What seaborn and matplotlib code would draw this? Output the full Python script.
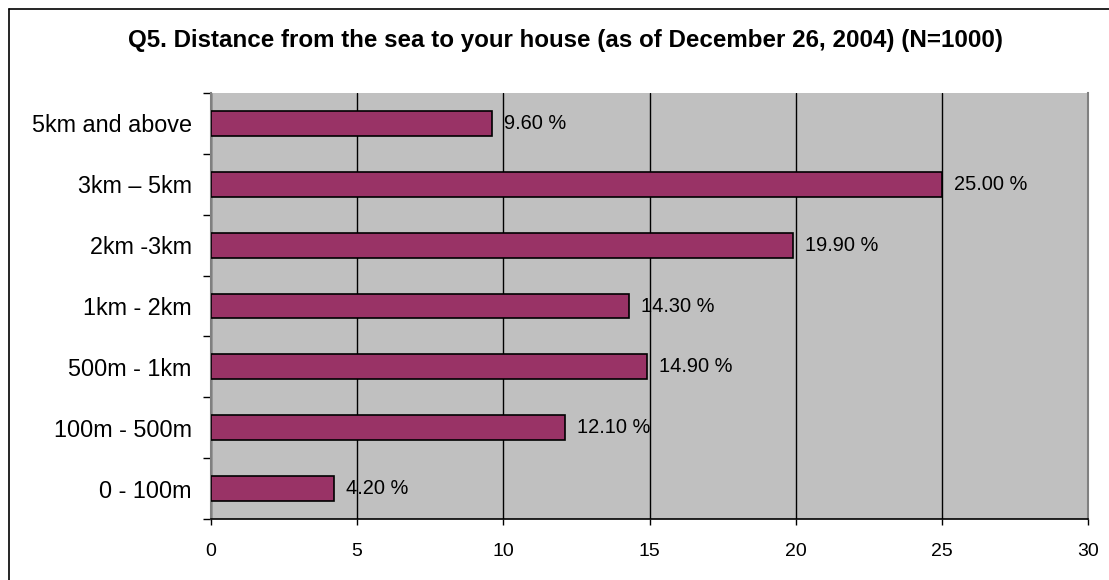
import matplotlib
matplotlib.use("Agg")
import matplotlib.pyplot as plt
import seaborn as sns
import pandas as pd
from matplotlib.lines import Line2D

categories = ["5km and above", "3km \u2013 5km", "2km -3km", "1km - 2km",
              "500m - 1km", "100m - 500m", "0 - 100m"]
percentages = [9.6, 25.0, 19.9, 14.3, 14.9, 12.1, 4.2]
x_ticks = [0, 5, 10, 15, 20, 25, 30]
title = "Q5. Distance from the sea to your house (as of December 26, 2004) (N=1000)"

sns.set_theme(style="white")
plt.rcParams["font.family"] = ["Liberation Sans", "DejaVu Sans"]
plt.rcParams["text.color"] = "black"
plt.rcParams["xtick.color"] = "black"
plt.rcParams["ytick.color"] = "black"
plt.rcParams["xtick.labelcolor"] = "black"
plt.rcParams["ytick.labelcolor"] = "black"

df = pd.DataFrame({"category": categories, "pct": percentages})

fig = plt.figure(figsize=(11.09, 5.80), dpi=100)
ax = fig.add_axes([211 / 1109, 1 - 519 / 580, 877 / 1109, 426 / 580])
ax.set_facecolor("#c0c0c0")

sns.barplot(data=df, x="pct", y="category", orient="h", color="#993366",
            width=0.41, edgecolor="black", linewidth=1.2, saturation=1,
            ax=ax, zorder=3)

# value labels
for i, v in enumerate(percentages):
    ax.text(v + 0.42, i, f"{v:.2f} %", va="center", ha="left",
            fontsize=14.4, color="black", zorder=4)

ax.set_xlim(0, 30)
ax.set_ylim(len(categories) - 0.5, -0.5)
ax.set_xticks(x_ticks)
ax.set_xticklabels([str(t) for t in x_ticks], fontsize=14, color="black")
ax.xaxis.grid(True, color="black", linewidth=1.0, zorder=1)
ax.set_axisbelow(True)

# category ticks sit on the boundaries, labels at the centres
n = len(categories)
ax.set_yticks([k - 0.5 for k in range(n + 1)])
ax.set_yticklabels([])
ax.set_yticks(list(range(n)), minor=True)
ax.set_yticklabels(categories, minor=True, fontsize=16.8, color="black")
ax.tick_params(axis="y", which="major", left=True, length=6, width=1,
               color="black", direction="out")
ax.tick_params(axis="y", which="minor", left=True, length=0, pad=14)
ax.tick_params(axis="x", which="major", bottom=True, length=4, width=1,
               color="black", direction="out", pad=13)

ax.set_xlabel("")
ax.set_ylabel("")
for side in ["left", "right"]:
    ax.spines[side].set_color("#808080")
    ax.spines[side].set_linewidth(1.5)
ax.spines["top"].set_visible(False)
ax.spines["bottom"].set_color("black")
ax.spines["bottom"].set_linewidth(1.2)

fig.text(565 / 1109, 1 - 41 / 580, title, ha="center", va="center",
         fontsize=17.4, fontweight="bold", color="black")

# outer chart frame (left and top edges)
fig.add_artist(Line2D([9 / 1109, 9 / 1109], [0, 1 - 9 / 580],
                      transform=fig.transFigure, color="black", linewidth=1.2))
fig.add_artist(Line2D([9 / 1109, 1], [1 - 9 / 580, 1 - 9 / 580],
                      transform=fig.transFigure, color="black", linewidth=1.2))

fig.savefig("out.png", dpi=100, facecolor="white")
